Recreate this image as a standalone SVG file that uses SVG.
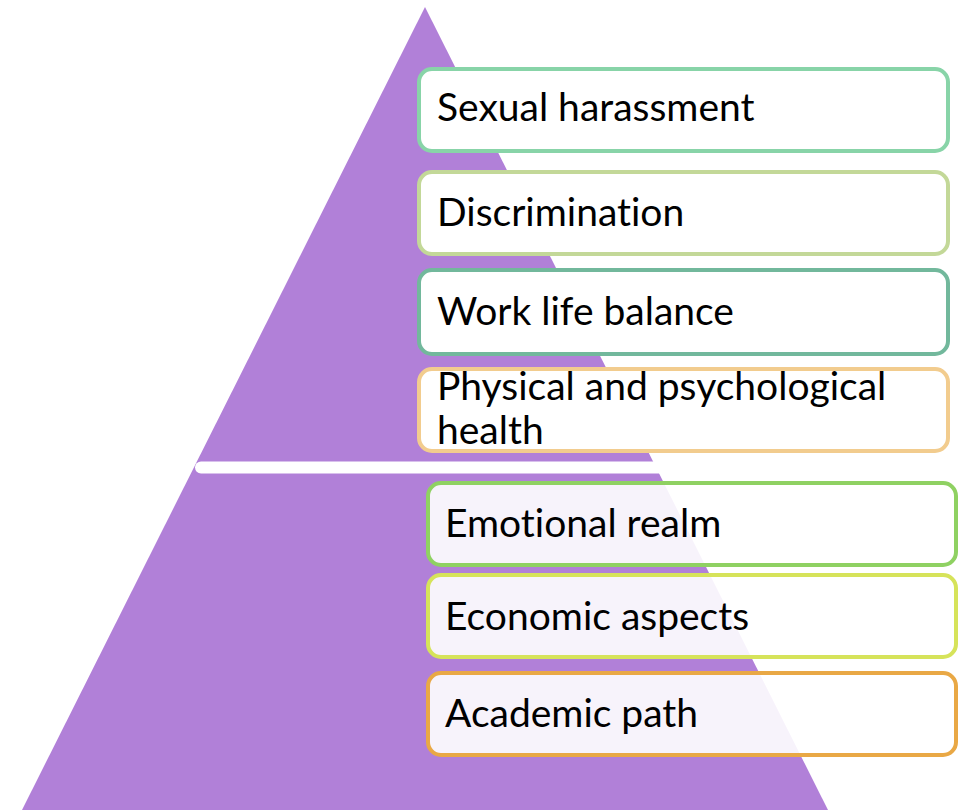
<svg xmlns="http://www.w3.org/2000/svg" width="966" height="810" viewBox="0 0 966 810">
<style>
.box{stroke-width:4}
.top{fill:#ffffff}
.bot{fill:#ffffff;fill-opacity:0.9}
.lbl{font-family:Lato,"Liberation Sans",sans-serif;font-size:39px;fill:#000000;font-variant-ligatures:none}
</style>
<rect width="966" height="810" fill="#ffffff"/>
<g id="pyramid">
<polygon points="425,7 22,810 828,810" fill="#b180d8"/>
<line x1="201" y1="467.5" x2="700" y2="467.5" stroke="#ffffff" stroke-width="12" stroke-linecap="round"/>
</g>
<g id="connectors"></g>
<g id="n1"><rect class="box top" x="419" y="69" width="529" height="82" rx="13" stroke="#88d4a8"/><text class="lbl" x="437" y="121">Sexual harassment</text></g>
<g id="n2"><rect class="box top" x="419" y="172" width="529" height="82" rx="13" stroke="#c3d898"/><text class="lbl" x="437" y="226">Discrimination</text></g>
<g id="n3"><rect class="box top" x="419" y="270" width="529" height="84" rx="13" stroke="#72b89c"/><text class="lbl" x="437" y="325">Work life balance</text></g>
<g id="n4"><rect class="box top" x="419" y="369" width="529" height="82" rx="13" stroke="#f2cc8e"/><text class="lbl" x="437" y="400">Physical and psychological</text><text class="lbl" x="437" y="444">health</text></g>
<g id="n5"><rect class="box bot" x="428" y="483" width="528" height="82" rx="13" stroke="#8fd162"/><text class="lbl" x="445" y="537">Emotional realm</text></g>
<g id="n6"><rect class="box bot" x="428" y="575" width="528" height="82" rx="13" stroke="#d6e35a"/><text class="lbl" x="445" y="630">Economic aspects</text></g>
<g id="n7"><rect class="box bot" x="428" y="673" width="528" height="82" rx="13" stroke="#e9a845"/><text class="lbl" x="445" y="727">Academic path</text></g>
</svg>
